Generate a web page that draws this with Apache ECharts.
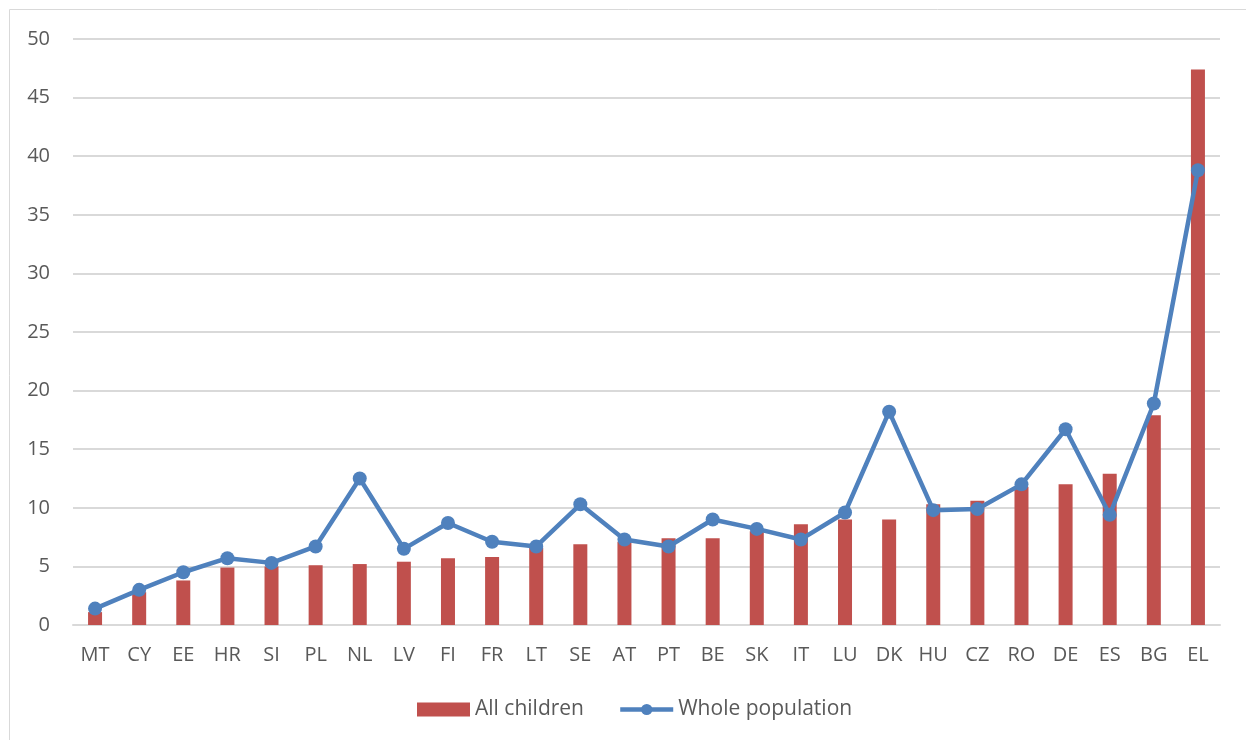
<!DOCTYPE html>
<html>
<head>
<meta charset="utf-8">
<script src="https://cdn.jsdelivr.net/npm/echarts@6/dist/echarts.min.js"></script>
<style>
  html, body { margin: 0; padding: 0; background: #fff; }
  #chart { width: 1246px; height: 740px; }
</style>
</head>
<body>
<div id="chart"></div>
<script>
// data
const countries = ['MT', 'CY', 'EE', 'HR', 'SI', 'PL', 'NL', 'LV', 'FI', 'FR', 'LT', 'SE', 'AT',
  'PT', 'BE', 'SK', 'IT', 'LU', 'DK', 'HU', 'CZ', 'RO', 'DE', 'ES', 'BG', 'EL'];
const allChildren = [1.1, 2.8, 3.8, 4.9, 5.0, 5.1, 5.2, 5.4, 5.7, 5.8, 6.6, 6.9, 7.1,
  7.4, 7.4, 8.0, 8.6, 9.0, 9.0, 10.3, 10.6, 11.8, 12.0, 12.9, 17.9, 47.4];
const wholePopulation = [1.4, 3.0, 4.5, 5.7, 5.3, 6.7, 12.5, 6.5, 8.7, 7.1, 6.7, 10.3, 7.3,
  6.7, 9.0, 8.2, 7.3, 9.6, 18.2, 9.8, 9.9, 12.0, 16.7, 9.4, 18.9, 38.8];

const chart = echarts.init(document.getElementById('chart'));

const labelFont = { color: '#595959', fontSize: 20, fontFamily: 'Open Sans' };

chart.setOption({
  animation: false,
  graphic: [{
    type: 'rect',
    shape: { x: 9.5, y: 9.5, width: 1300, height: 800 },
    style: { fill: 'none', stroke: '#d9d9d9', lineWidth: 1 },
    silent: true
  }],
  grid: { left: 73, right: 26, top: 39, bottom: 115 },
  legend: {
    bottom: 15,
    left: 412,
    itemGap: 34,
    itemWidth: 53,
    itemHeight: 14,
    textStyle: { color: '#595959', fontSize: 21, fontFamily: 'Open Sans' },
    data: [
      { name: 'All children', icon: 'rect', itemStyle: { color: '#C0504D' } },
      { name: 'Whole population', lineStyle: { width: 4.5 } }
    ]
  },
  xAxis: {
    type: 'category',
    data: countries,
    axisLine: { lineStyle: { color: '#d9d9d9', width: 2 } },
    axisTick: { show: false },
    axisLabel: Object.assign({ margin: 20 }, labelFont)
  },
  yAxis: {
    type: 'value',
    min: 0,
    max: 50,
    interval: 5,
    axisLine: { show: false },
    axisTick: { show: false },
    axisLabel: Object.assign({ margin: 23 }, labelFont),
    splitLine: { lineStyle: { color: '#d9d9d9', width: 2 } }
  },
  series: [
    {
      name: 'All children',
      type: 'bar',
      data: allChildren,
      barWidth: 14,
      itemStyle: { color: '#C0504D' }
    },
    {
      name: 'Whole population',
      type: 'line',
      data: wholePopulation,
      symbol: 'circle',
      symbolSize: 14,
      lineStyle: { color: '#4F81BD', width: 4.5 },
      itemStyle: { color: '#4F81BD' }
    }
  ]
});
</script>
</body>
</html>
